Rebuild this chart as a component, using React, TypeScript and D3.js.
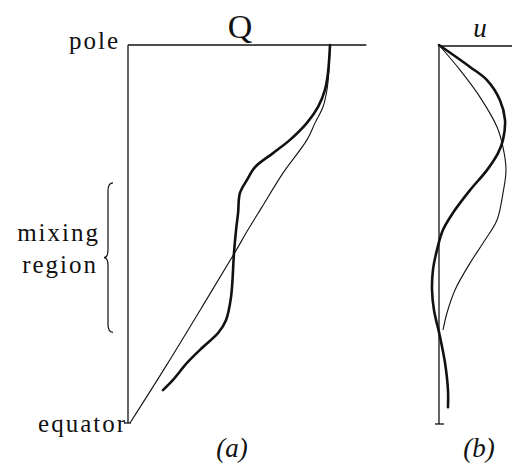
import * as d3 from "d3";

// latitude runs 0 (equator) .. 1 (pole)
const qThickLat = [0.087, 0.114, 0.159, 0.201, 0.238, 0.272, 0.333, 0.452, 0.511, 0.556, 0.608, 0.643, 0.677, 0.714, 0.749, 0.794, 0.836, 0.881, 0.926, 1.0];
const qThick = [0.173, 0.223, 0.292, 0.371, 0.446, 0.485, 0.51, 0.525, 0.535, 0.545, 0.554, 0.589, 0.629, 0.718, 0.802, 0.886, 0.941, 0.975, 0.99, 1.0];

const qThinLat = [0.0, 0.159, 0.333, 0.452, 0.511, 0.571, 0.661, 0.749, 0.794, 0.836, 0.881, 0.934, 1.0];
const qThin = [0.01, 0.198, 0.396, 0.53, 0.594, 0.663, 0.767, 0.886, 0.926, 0.965, 0.985, 0.995, 1.0];

const uThickLat = [1.0, 0.942, 0.907, 0.854, 0.802, 0.749, 0.714, 0.669, 0.616, 0.556, 0.511, 0.458, 0.405, 0.352, 0.299, 0.228, 0.159, 0.087, 0.042];
const uThick = [0.0, 0.463, 0.716, 0.91, 0.985, 0.955, 0.881, 0.716, 0.463, 0.209, 0.06, -0.03, -0.09, -0.104, -0.075, 0.015, 0.09, 0.134, 0.134];

const uThinLat = [1.0, 0.934, 0.862, 0.783, 0.73, 0.669, 0.608, 0.537, 0.484, 0.423, 0.352, 0.291, 0.246];
const uThin = [0.0, 0.313, 0.612, 0.866, 0.955, 1.0, 0.955, 0.866, 0.687, 0.463, 0.239, 0.119, 0.06];

const mixingRegion = [0.24, 0.635];

const W = 512;
const H = 468;
const font = "'Liberation Serif', 'Times New Roman', 'DejaVu Serif', serif";

const yScale = d3.scaleLinear().domain([0, 1]).range([423, 45]);
const qScale = d3.scaleLinear().domain([0, 1]).range([128, 330]);
const uScale = d3.scaleLinear().domain([0, 1]).range([439, 506]);

function makePath(scale: d3.ScaleLinear<number, number>, lat: number[], vals: number[]) {
  const pts: [number, number][] = lat.map((l, i) => [vals[i], l]);
  return d3
    .line<[number, number]>()
    .x((d) => scale(d[0]))
    .y((d) => yScale(d[1]))
    .curve(d3.curveCatmullRom.alpha(0.5))(pts) as string;
}

function Brace() {
  const yt = yScale(mixingRegion[1]);
  const yb = yScale(mixingRegion[0]);
  const ym = (yt + yb) / 2;
  const xr = 113, xs = 108, xt = 104;
  const d = `M${xr},${yt} Q${xs},${yt} ${xs},${yt + 8} L${xs},${ym - 8} Q${xs},${ym} ${xt},${ym} Q${xs},${ym} ${xs},${ym + 8} L${xs},${yb - 8} Q${xs},${yb} ${xr},${yb}`;
  return <path d={d} fill="none" stroke="#111" strokeWidth={1.2} />;
}

export default function App() {
  const y0 = yScale(0);
  const y1 = yScale(1);
  const txt = { fontFamily: font, fill: "#111" };
  return (
    <svg
      width={W}
      height={H}
      style={{ position: "absolute", left: 0, top: 0, background: "#fff" }}
    >
      {/* panel (a) */}
      <line x1={qScale(0)} x2={qScale(1.18)} y1={y1} y2={y1} stroke="#111" strokeWidth={1.3} />
      <line x1={qScale(0)} x2={qScale(0)} y1={y1} y2={y0} stroke="#111" strokeWidth={1.3} />
      <line x1={qScale(0) - 4} x2={qScale(0) + 3} y1={y0} y2={y0} stroke="#111" strokeWidth={1.3} />
      <path d={makePath(qScale, qThinLat, qThin)} fill="none" stroke="#111" strokeWidth={1.1} />
      <path d={makePath(qScale, qThickLat, qThick)} fill="none" stroke="#111" strokeWidth={2.6} strokeLinecap="round" />

      <text x={240} y={38} fontSize={34} fontWeight={300} textAnchor="middle" style={txt}>Q</text>
      <text x={120} y={49} fontSize={25} letterSpacing={2} textAnchor="end" style={txt}>pole</text>
      <text x={127} y={432} fontSize={25} letterSpacing={2} textAnchor="end" style={txt}>equator</text>
      <text x={100} y={241} fontSize={25} letterSpacing={2} textAnchor="end" style={txt}>mixing</text>
      <text x={98} y={273} fontSize={25} letterSpacing={2} textAnchor="end" style={txt}>region</text>
      <Brace />
      <text x={232} y={457} fontSize={27} fontStyle="italic" textAnchor="middle" style={txt}>(a)</text>

      {/* panel (b) */}
      <line x1={uScale(0)} x2={W} y1={y1 + 1} y2={y1 + 1} stroke="#111" strokeWidth={1.3} />
      <line x1={uScale(0)} x2={uScale(0)} y1={y1 + 1} y2={y0 + 1} stroke="#111" strokeWidth={1.3} />
      <line x1={uScale(0) - 4} x2={uScale(0) + 5} y1={y0 + 1} y2={y0 + 1} stroke="#111" strokeWidth={1.3} />
      <path d={makePath(uScale, uThinLat, uThin)} fill="none" stroke="#111" strokeWidth={1.1} />
      <path d={makePath(uScale, uThickLat, uThick)} fill="none" stroke="#111" strokeWidth={2.6} strokeLinecap="round" />
      <text x={480} y={37} fontSize={27} fontStyle="italic" textAnchor="middle" style={txt}>u</text>
      <text x={479} y={457} fontSize={27} fontStyle="italic" textAnchor="middle" style={txt}>(b)</text>
    </svg>
  );
}
